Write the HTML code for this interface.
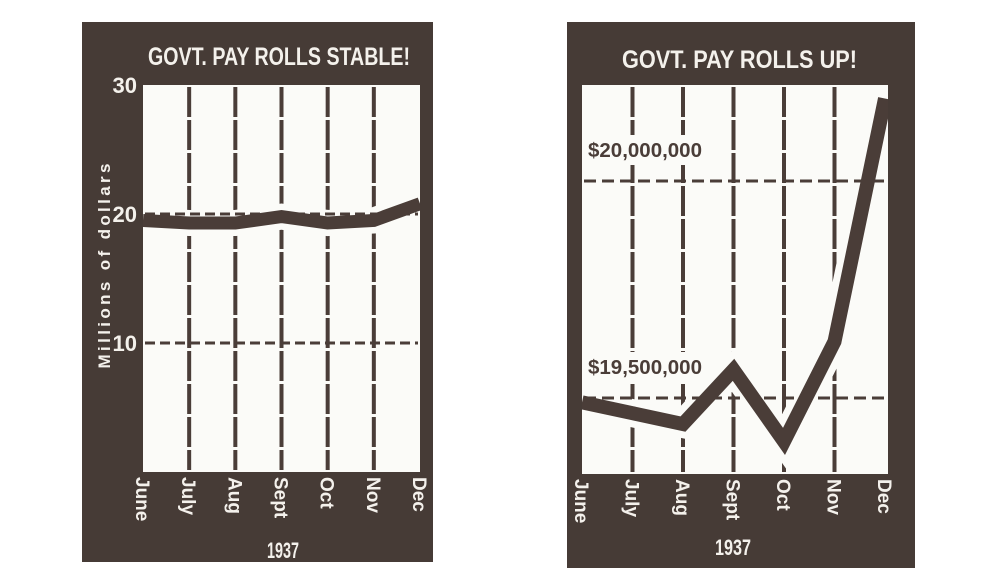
<!DOCTYPE html>
<html><head><meta charset="utf-8">
<style>
html,body{margin:0;padding:0;background:#fff;}
svg{display:block;}
text{font-family:"Liberation Sans Narrow","Liberation Sans",sans-serif;font-weight:bold;fill:#f4f1ec;}
</style></head>
<body>
<svg id="chart" width="1000" height="585" viewBox="0 0 1000 585" xmlns="http://www.w3.org/2000/svg">
  <rect x="82" y="22" width="351" height="540" fill="#463b36"/>
  <rect x="567" y="22" width="348" height="546" fill="#463b36"/>
  <rect x="143" y="85" width="277" height="387" fill="#fbfbf8"/>
  <rect x="582" y="85" width="306" height="389" fill="#fbfbf8"/>
  <defs>
    <clipPath id="lclip"><rect x="143" y="85" width="277" height="387"/></clipPath>
    <clipPath id="rclip"><rect x="582" y="85" width="306" height="389"/></clipPath>
  </defs>
  <text x="148" y="65" font-size="25" textLength="262" lengthAdjust="spacingAndGlyphs">GOVT. PAY ROLLS STABLE!</text>
  <text x="622" y="68" font-size="25" textLength="235" lengthAdjust="spacingAndGlyphs">GOVT. PAY ROLLS UP!</text>
  <text transform="translate(110,266) rotate(-90)" text-anchor="middle" font-size="17" textLength="205" lengthAdjust="spacing">Millions of dollars</text>
  <text x="283" y="558" text-anchor="middle" font-size="22" textLength="32" lengthAdjust="spacingAndGlyphs">1937</text>
  <text x="733" y="555" text-anchor="middle" font-size="22" textLength="36" lengthAdjust="spacingAndGlyphs">1937</text>
  <g id="left"></g>
  <g id="right"></g>
</svg>
<script>
const months = ["June","July","Aug","Sept","Oct","Nov","Dec"];
const stableValues = [19.5, 19.3, 19.3, 19.8, 19.3, 19.5, 20.8];
const stableTicks = [30, 20, 10];
const stableGridValues = [20, 10];
const upValues = [19.49, 19.465, 19.44, 19.565, 19.40, 19.63, 20.19];
const upGridValues = [20.0, 19.5];
const upGridLabels = ["$20,000,000", "$19,500,000"];

const NS = "http://www.w3.org/2000/svg";
const INK = "#4a3d38";
function mk(tag, attrs, parent) {
  const e = document.createElementNS(NS, tag);
  for (const k in attrs) e.setAttribute(k, attrs[k]);
  parent.appendChild(e);
  return e;
}

// ---------- Left chart ----------
const L = document.getElementById('left');
const lx = i => 143 + i * (420 - 143) / (months.length - 1);
const ly = v => 472 - v * (472 - 85) / 30;

months.forEach((m, i) => {
  if (i > 0 && i < months.length - 1) {
    const g = mk('line', {x1: lx(i), x2: lx(i), y1: 87, y2: 470, stroke: INK, 'stroke-width': 4, 'stroke-dasharray': '30 3'}, L);
    
    
  }
  const t = mk('text', {transform: `translate(${lx(i) - 7},477) rotate(90)`, 'font-size': 19}, L);
  t.textContent = m;
  
  
});
stableTicks.forEach(v => {
  const t = mk('text', {x: 137, y: ly(v) + 8, 'text-anchor': 'end', 'font-size': 22}, L);
  t.textContent = v;
  
  
});
const lg = mk('g', {'clip-path': 'url(#lclip)'}, L);
const lpts = stableValues.map((v, i) => lx(i) + ',' + ly(v)).join(' ');
const lhalo = mk('polyline', {points: lpts, fill: 'none', stroke: '#fbfbf8', 'stroke-width': 26}, lg);


const lline = mk('polyline', {points: lpts, fill: 'none', stroke: INK, 'stroke-width': 13}, lg);


stableGridValues.forEach(v => {
  const g = mk('line', {x1: 145, x2: 418, y1: ly(v), y2: ly(v), stroke: INK, 'stroke-width': 3, 'stroke-dasharray': '10 5'}, lg);
  
  
});

// ---------- Right chart ----------
const R = document.getElementById('right');
const rx = i => 582 + i * (885 - 582) / (months.length - 1);
const ry = v => 398 - (v - 19.5) * 434;

months.forEach((m, i) => {
  if (i > 0 && i < months.length - 1) {
    const g = mk('line', {x1: rx(i), x2: rx(i), y1: 87, y2: 472, stroke: INK, 'stroke-width': 4, 'stroke-dasharray': '30 3'}, R);
    
    
  }
  const t = mk('text', {transform: `translate(${rx(i) - 7},479) rotate(90)`, 'font-size': 19}, R);
  t.textContent = m;
  
  
});
const rg = mk('g', {'clip-path': 'url(#rclip)'}, R);
upGridValues.forEach((v, k) => {
  const bg = mk('rect', {x: 584, y: ry(v) - 46, width: 124, height: 30, fill: '#fbfbf8'}, rg);
  
  
});
const rpts = upValues.map((v, i) => rx(i) + ',' + ry(v)).join(' ');
const rhalo = mk('polyline', {points: rpts, fill: 'none', stroke: '#fbfbf8', 'stroke-width': 28}, rg);


upGridValues.forEach((v, k) => {
  const g = mk('line', {x1: 584, x2: 886, y1: ry(v), y2: ry(v), stroke: INK, 'stroke-width': 3, 'stroke-dasharray': '12 6'}, rg);
  
  
});
const rline = mk('polyline', {points: rpts, fill: 'none', stroke: INK, 'stroke-width': 14}, rg);


upGridValues.forEach((v, k) => {
  const t = mk('text', {x: 588, y: ry(v) - 24, 'font-size': 20, textLength: 114, lengthAdjust: 'spacingAndGlyphs'}, rg);
  t.style.fill = INK;
  t.textContent = upGridLabels[k];
  
  
});
</script>
</body></html>
